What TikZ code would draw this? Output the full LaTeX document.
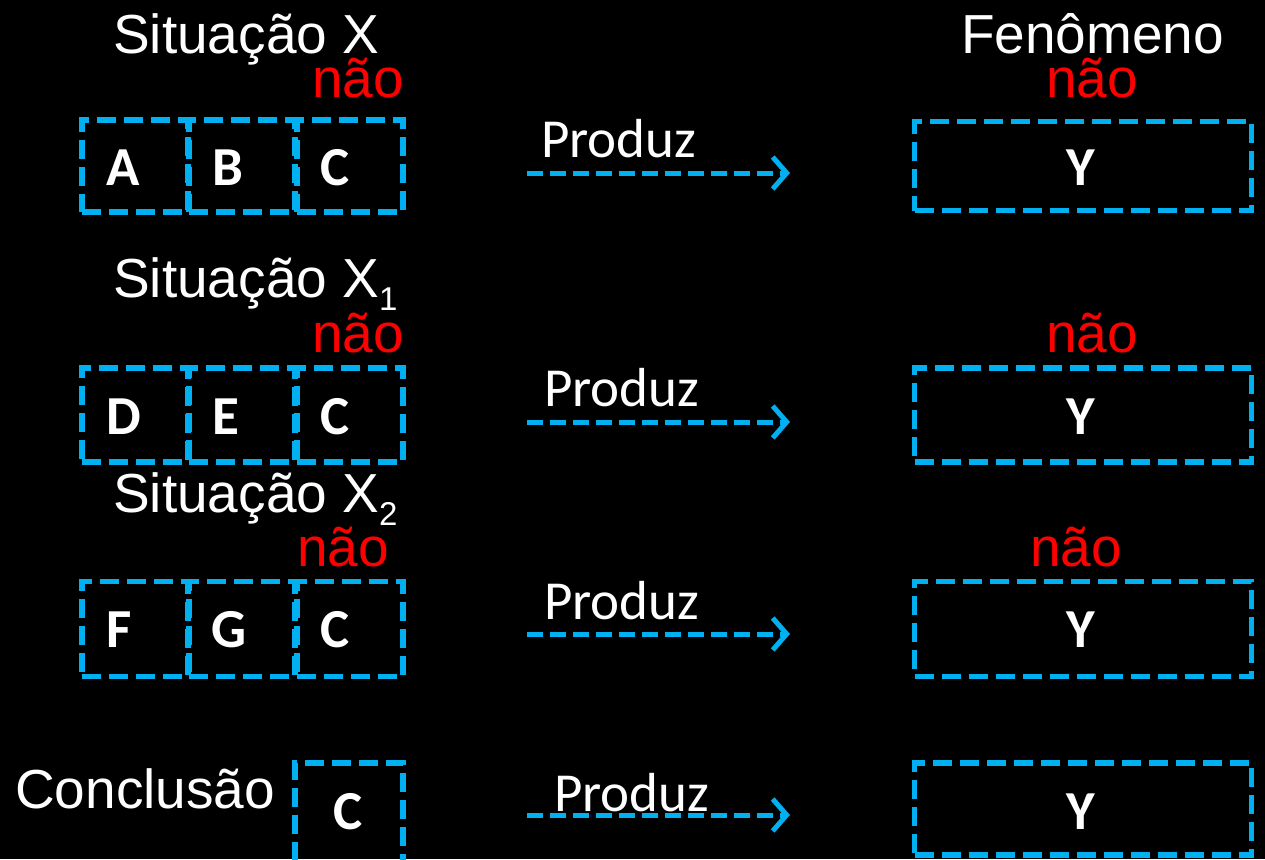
\documentclass[tikz,border=0pt]{standalone}
\usepackage{fontspec}
\setmainfont{Liberation Sans}
\newfontfamily\calibri{Carlito}
\usetikzlibrary{arrows.meta}
\definecolor{lblue}{HTML}{00B0F0}
\definecolor{nred}{HTML}{FF0000}
\newcommand\subnum[1]{\raisebox{-13pt}{\fontsize{33}{33}\selectfont #1}}
\begin{document}
\begin{tikzpicture}[x=1pt,y=-1pt,
  cellbox/.style={draw=lblue, line width=5.5pt, dash pattern=on 19pt off 8pt, minimum width=106pt, inner sep=0pt},
  letter/.style={text=white, font=\calibri\bfseries\fontsize{55}{55}\selectfont, anchor=base, inner sep=0pt},
  title/.style={text=white, font=\fontsize{55}{55}\selectfont, anchor=base west, inner sep=0pt},
  neg/.style={text=nred, font=\fontsize{55}{55}\selectfont, anchor=base west, inner sep=0pt},
  prodlbl/.style={text=white, font=\calibri\fontsize{55}{55}\selectfont, anchor=base west, inner sep=0pt},
  prodarrow/.style={draw=lblue, line width=5pt, dash pattern=on 16pt off 7pt, -{Straight Barb[length=14pt,width=32pt,line width=5pt]}}
]
\fill[black] (0,0) rectangle (1265,859);
\useasboundingbox (0,0) rectangle (1265,859);
\clip (0,0) rectangle (1265,859);

% Row 1
\node[title] (t1) at (113,53) {Situação X};
\node[neg] (n1) at (312,97) {não};
\node[title] (f1) at (961,53) {Fenômeno};
\node[neg] (m1) at (1046,97) {não};
\node[cellbox, minimum height=92pt] (a1) at (135,166) {};
\node[cellbox, minimum height=92pt] (b1) at (242,166) {};
\node[cellbox, minimum height=92pt] (c1) at (350,166) {};
\node[letter] (la1) at (123,185) {A};
\node[letter] (lb1) at (228,185) {B};
\node[letter] (lc1) at (335,185) {C};
\node[cellbox, minimum width=337pt, minimum height=89pt] (y1) at (1083,166) {};
\node[letter] (ly1) at (1081,185) {Y};
\coordinate (s1) at (527,173);
\coordinate (e1) at (790,173);
\draw[prodarrow] (s1) -- (e1);
\node[prodlbl] (p1) at (541,157) {Produz};

% Row 2
\node[title] (t2) at (113,297) {Situação X\subnum{1}};
\node[neg] (n2) at (312,352) {não};
\node[neg] (m2) at (1046,352) {não};
\node[cellbox, minimum height=94pt] (a2) at (135,415) {};
\node[cellbox, minimum height=94pt] (b2) at (242,415) {};
\node[cellbox, minimum height=94pt] (c2) at (350,415) {};
\node[letter] (la2) at (124,434) {D};
\node[letter] (lb2) at (226,434) {E};
\node[letter] (lc2) at (335,434) {C};
\node[cellbox, minimum width=337pt, minimum height=94pt] (y2) at (1083,415) {};
\node[letter] (ly2) at (1081,434) {Y};
\coordinate (s2) at (527,422);
\coordinate (e2) at (790,422);
\draw[prodarrow] (s2) -- (e2);
\node[prodlbl] (p2) at (544,406) {Produz};

% Row 3
\node[title] (t3) at (113,512) {Situação X\subnum{2}};
\node[neg] (n3) at (297,566) {não};
\node[neg] (m3) at (1030,566) {não};
\node[cellbox, minimum height=95pt] (a3) at (135,629) {};
\node[cellbox, minimum height=95pt] (b3) at (242,629) {};
\node[cellbox, minimum height=95pt] (c3) at (350,629) {};
\node[letter] (la3) at (119,647) {F};
\node[letter] (lb3) at (229,647) {G};
\node[letter] (lc3) at (335,647) {C};
\node[cellbox, minimum width=337pt, minimum height=95pt] (y3) at (1083,629) {};
\node[letter] (ly3) at (1081,647) {Y};
\coordinate (s3) at (527,634);
\coordinate (e3) at (790,634);
\draw[prodarrow] (s3) -- (e3);
\node[prodlbl] (p3) at (544,619) {Produz};

% Row 4
\node[title] (t4) at (15,808) {Conclusão};
\node[cellbox, minimum width=108pt, minimum height=110pt] (c4) at (349,818) {};
\node[letter] (lc4) at (348,829) {C};
\node[cellbox, minimum width=337pt, minimum height=92pt] (y4) at (1083,809) {};
\node[letter] (ly4) at (1081,829) {Y};
\coordinate (s4) at (527,815);
\coordinate (e4) at (790,815);
\draw[prodarrow] (s4) -- (e4);
\node[prodlbl] (p4) at (554,811) {Produz};
\end{tikzpicture}
\end{document}
